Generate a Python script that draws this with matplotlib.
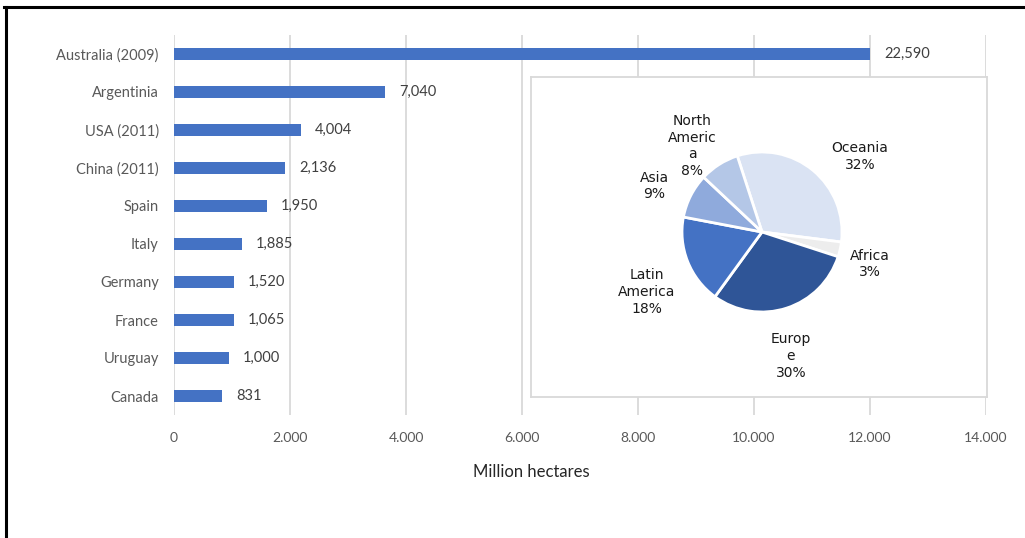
import matplotlib.pyplot as plt
from matplotlib.lines import Line2D

# bar chart data (top to bottom)
countries = ['Australia (2009)', 'Argentinia', 'USA (2011)', 'China (2011)', 'Spain',
             'Italy', 'Germany', 'France', 'Uruguay', 'Canada']
bar_lengths = [12000, 3640, 2190, 1914, 1603, 1172, 1034, 1034, 948, 828]
bar_labels = ['22,590', '7,040', '4,004', '2,136', '1,950',
              '1,885', '1,520', '1,065', '1,000', '831']

# share by region (pie)
regions = ['Oceania', 'Africa', 'Europe', 'Latin America', 'Asia', 'North America']
shares = [32, 3, 30, 18, 9, 8]
region_text = ['Oceania', 'Africa', 'Europ\ne', 'Latin\nAmerica', 'Asia', 'North\nAmeric\na']
pie_colors = ['#DAE3F3', '#EDEDED', '#2F5597', '#4472C4', '#8FAADC', '#B4C7E7']

W, H = 1025, 538
fig = plt.figure(figsize=(W / 100, H / 100), dpi=100)

def box(x0, y0, x1, y1):
    return [x0 / W, 1 - y1 / H, (x1 - x0) / W, (y1 - y0) / H]

font_main = ['Lato', 'DejaVu Sans']

ax = fig.add_axes(box(174, 35, 986, 415))
ypos = list(range(len(countries)))
ax.barh(ypos, bar_lengths, height=0.34, color='#4472C4', zorder=3)
ax.set_ylim(len(countries) - 0.5, -0.5)
ax.set_xlim(0, 14000)
ax.set_yticks(ypos)
ax.set_yticklabels(countries, family=font_main, fontsize=10.5, color='#595959')
xt = list(range(0, 14001, 2000))
ax.set_xticks(xt)
ax.set_xticklabels(['0'] + [f'{v // 1000}.000' for v in xt[1:]],
                   family=font_main, fontsize=10, color='#595959')
ax.tick_params(length=0, pad=12)
ax.tick_params(axis='y', pad=11)
ax.grid(axis='x', color='#D9D9D9', linewidth=1.3, zorder=0)
for s in ax.spines.values():
    s.set_visible(False)
ax.set_xlabel('Million hectares', family=font_main, fontsize=12, color='#262626')
ax.xaxis.set_label_coords(0.44, -0.13)

for y, v, t in zip(ypos, bar_lengths, bar_labels):
    ax.annotate(t, (v, y), xytext=(10, 0), textcoords='offset points',
                va='center', ha='left', family=font_main, fontsize=10.5, color='#404040')

# framed inset with the regional pie
inset = fig.add_axes(box(531, 77, 987, 397))
inset.set_xticks([])
inset.set_yticks([])
for s in inset.spines.values():
    s.set_color('#D9D9D9')
    s.set_linewidth(1.3)

pax = fig.add_axes(box(602, 72, 922, 392))
pax.pie(shares, colors=pie_colors, startangle=108, counterclock=False,
        wedgeprops=dict(edgecolor='white', linewidth=2))
pax.set_xlim(-2, 2)
pax.set_ylim(-2, 2)
pax.set_aspect('equal')
pax.axis('off')

label_xy = [(1.225, 0.94), (1.35, -0.4), (0.36, -1.55),
            (-1.44, -0.75), (-1.35, 0.575), (-0.875, 1.075)]
for (lx, ly), name, pct in zip(label_xy, region_text, shares):
    pax.text(lx, ly, f'{name}\n{pct}%', ha='center', va='center',
             fontsize=10, color='#1a1a1a', linespacing=1.25, family='DejaVu Sans')

# outer frame lines
fig.add_artist(Line2D([4 / W, 1], [1 - 6.5 / H] * 2, color='black', linewidth=2.2))
fig.add_artist(Line2D([5.5 / W] * 2, [0, 1 - 6.5 / H], color='black', linewidth=2.2))

fig.savefig('out.png', dpi=100)
